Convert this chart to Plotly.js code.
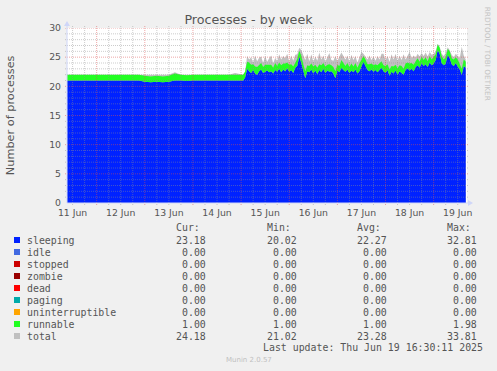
<!DOCTYPE html>
<html><head><meta charset="utf-8">
<script src="https://cdn.plot.ly/plotly-3.0.1.min.js"></script>
<style>html,body{margin:0;padding:0;background:#f0f0f0;}#chart{width:497px;height:371px;}</style>
</head><body><div id="chart"></div>
<script>
// ---- sampling grids (RRD steps) ----
const flatStartUTC = Date.UTC(2025, 5, 11, 9, 0);   // 11 Jun 09:00
const flatStepHours = 3;
const busyStartUTC = Date.UTC(2025, 5, 15, 0, 0);   // 15 Jun 00:00
const busyStepHours = 1;

// ---- data: 11 Jun 09:00 .. 14 Jun 21:00, every 3 h ----
const flatSleeping = [21,21,21,21,21,21,21,21,21,21,21,21,21,20.8,20.7,20.8,20.7,20.8,21.0,21.0,20.9,21,21,21,21,21,21,21,21];
const flatRunnable = [1,1,1,1,1,1,1,1,1,1,1,1,1,1,1,1,1,1,1.2,1,1,1,1,1,1,1,1,1,1];
const flatTotal    = [22,22,22,22,22,22,22,22,22,22,22,22,22,22,22,22,22,22,22.4,22,22,22,22,22,22,22,22,22,22.3];

// ---- data: 15 Jun 00:00 .. 19 Jun 16:00, hourly ----
const busySleeping = [
 21.0,21.0,21.5,23.0,22.6,22.3,22.8,22.2,22.0,22.6,
 22.9,22.3,22.5,22.7,22.4,22.6,22.2,22.8,22.5,23.0,
 22.4,22.9,22.6,23.1,22.5,22.8,22.3,23.2,23.5,25.1,
 24.0,22.7,21.4,22.6,22.4,22.9,22.2,22.7,22.1,22.8,
 22.4,23.0,22.3,22.7,22.5,22.6,22.2,21.4,22.7,22.4,
 23.2,22.8,22.5,22.9,22.3,22.7,22.4,22.9,22.2,22.6,
 23.4,24.2,23.5,22.8,22.6,22.9,22.5,22.8,22.4,22.9,
 23.2,22.6,22.3,22.8,21.8,22.5,22.2,22.7,22.0,22.6,
 22.3,22.0,22.8,23.1,22.7,23.0,22.6,23.3,23.6,23.2,
 24.0,23.5,23.8,23.3,24.1,23.6,23.9,24.5,26.2,25.6,
 24.0,23.6,23.9,25.4,24.8,23.8,23.5,24.0,23.4,22.9,
 22.0,23.5,23.2];
const busyRunnable = [
 1.0,1.0,1.0,1.2,1.5,1.4,1.0,1.2,1.3,1.0,
 1.1,1.0,1.2,1.0,1.3,1.1,1.0,1.2,1.0,1.1,
 1.2,1.0,1.3,1.0,1.2,1.0,1.1,1.0,1.2,1.0,
 1.3,1.1,1.2,1.0,1.1,1.0,1.2,1.0,1.1,1.0,
 1.2,1.0,1.1,1.0,1.3,1.0,1.1,1.2,1.0,1.1,
 1.3,1.2,1.0,1.1,1.0,1.2,1.0,1.1,1.0,1.3,
 1.2,1.0,1.1,1.0,1.2,1.0,1.1,1.0,1.2,1.0,
 1.1,1.0,1.2,1.0,1.1,1.0,1.2,1.0,1.1,1.0,
 1.2,1.0,1.1,1.0,1.2,1.0,1.1,1.0,1.2,1.0,
 1.1,1.0,1.2,1.0,1.1,1.0,1.2,1.0,1.0,1.0,
 1.2,1.0,1.1,1.0,1.2,1.0,1.1,1.0,1.2,1.0,
 1.0,1.1,1.0];
const busyTotal = [
 22.0,22.0,22.5,25.2,24.6,25.0,24.1,25.3,24.3,24.9,
 25.1,24.0,25.2,24.2,24.8,25.3,23.9,24.9,24.3,25.5,
 24.6,25.2,24.8,25.6,24.2,25.3,24.4,25.4,25.5,26.6,
 26.2,25.3,24.5,25.6,24.3,25.5,24.2,25.1,24.4,25.8,
 24.6,25.3,24.2,25.0,25.7,24.5,24.4,25.2,24.3,25.1,
 25.8,25.2,24.6,25.3,24.2,25.4,24.5,25.2,24.1,25.0,
 25.9,25.6,25.0,24.6,25.3,24.5,25.1,24.4,25.2,24.6,
 25.6,25.6,24.5,25.2,24.2,25.5,24.6,25.6,24.4,25.3,
 24.5,25.5,24.6,25.2,25.9,24.8,25.3,24.9,25.6,25.1,
 25.7,25.2,25.8,25.1,25.9,25.4,25.6,26.0,27.3,26.8,
 25.6,25.2,25.7,26.7,26.2,25.4,25.0,25.6,25.1,24.8,
 26.8,25.3,24.6];

// ---- axis labels ----
const dayLabels = ['11 Jun','12 Jun','13 Jun','14 Jun','15 Jun','16 Jun','17 Jun','18 Jun','19 Jun'];
const dayNoons  = ['2025-06-11 12:00','2025-06-12 12:00','2025-06-13 12:00','2025-06-14 12:00','2025-06-15 12:00','2025-06-16 12:00','2025-06-17 12:00','2025-06-18 12:00','2025-06-19 12:00'];
const yTicks = [0,5,10,15,20,25,30];

// ---- legend table ----
const legendNames  = ['sleeping','idle','stopped','zombie','dead','paging','uninterruptible','runnable','total'];
const legendColors = ['#0022ff','#4169e1','#cc0000','#990000','#ff0000','#00aaaa','#ffa500','#22ff22','#c0c0c0'];
const curVals = ['23.18','0.00','0.00','0.00','0.00','0.00','0.00','1.00','24.18'];
const minVals = ['20.02','0.00','0.00','0.00','0.00','0.00','0.00','1.00','21.02'];
const avgVals = ['22.27','0.00','0.00','0.00','0.00','0.00','0.00','1.00','23.28'];
const maxVals = ['32.81','0.00','0.00','0.00','0.00','0.00','0.00','1.98','33.81'];

function fmt(ms){ return new Date(ms).toISOString().slice(0,16).replace('T',' '); }
const times = [];
flatSleeping.forEach((_, i) => times.push(fmt(flatStartUTC + i*flatStepHours*3600e3)));
busySleeping.forEach((_, i) => times.push(fmt(busyStartUTC + i*busyStepHours*3600e3)));
const sleeping = flatSleeping.concat(busySleeping);
const runnable = flatRunnable.concat(busyRunnable);
const total = flatTotal.concat(busyTotal);

// ---- geometry ----
const L = 67, R = 467, T = 28, B = 203;
const pxX = p => (p - L) / (R - L);
const pxY = p => (B - p) / (B - T);
const xRange = ['2025-06-11 09:13', '2025-06-19 16:37'];

const traces = [
  {x: times, y: total, type:'scatter', mode:'lines', fill:'tozeroy', fillcolor:'#c0c0c0',
   line:{width:0, color:'#c0c0c0'}, name:'total', hoverinfo:'skip'},
  {x: times, y: sleeping, type:'scatter', mode:'lines', stackgroup:'s', fillcolor:'#0022ff',
   line:{width:0, color:'#0022ff'}, name:'sleeping', hoverinfo:'skip'},
  {x: times, y: runnable, type:'scatter', mode:'lines', stackgroup:'s', fillcolor:'#22ff22',
   line:{width:0, color:'#22ff22'}, name:'runnable', hoverinfo:'skip'}
];

const GRID = 'rgba(143,143,143,0.45)';
const MGRID = 'rgba(222,79,79,0.5)';
const shapes = [];
// horizontal grid (above data, like rrdtool)
for (let v = 1; v <= 30; v++) {
  shapes.push({type:'line', xref:'paper', yref:'y', x0:-2/400, x1:1+2/400, y0:v, y1:v, layer:'above',
    line:{color: v % 5 === 0 ? MGRID : GRID, width:1, dash:'1px,1px'}});
}
// vertical grid every 6 h
for (let ms = Date.UTC(2025,5,11,12); ms <= Date.UTC(2025,5,19,12); ms += 6*3600e3) {
  const major = new Date(ms).getUTCHours() === 0;
  shapes.push({type:'line', xref:'x', yref:'paper', x0:fmt(ms), x1:fmt(ms), y0:-2/175, y1:1+2/175, layer:'above',
    line:{color: major ? MGRID : GRID, width:1, dash:'1px,1px'}});
}
// axes with arrows
const AX = '#cfd6f8';
shapes.push({type:'line', xref:'paper', yref:'paper', x0:0, x1:0, y0:0, y1:1+4/175, layer:'above', line:{color:AX, width:1}});
shapes.push({type:'line', xref:'paper', yref:'paper', x0:0, x1:1+4/400, y0:0, y1:0, layer:'above', line:{color:AX, width:1}});
shapes.push({type:'path', xref:'paper', yref:'paper', xsizemode:'pixel', ysizemode:'pixel', xanchor:0, yanchor:1,
  path:'M -3 2 L 3 2 L 0 7 Z', fillcolor:AX, line:{width:0}, layer:'above'});
shapes.push({type:'path', xref:'paper', yref:'paper', xsizemode:'pixel', ysizemode:'pixel', xanchor:1, yanchor:0,
  path:'M 1 -3 L 1 3 L 6 0 Z', fillcolor:AX, line:{width:0}, layer:'above'});

const annotations = [];
const mono = {family:'DejaVu Sans Mono', size:9.9, color:'#555555'};
const ann = (x, y, text, xanchor, font, extra) => Object.assign({xref:'paper', yref:'paper', x:pxX(x), y:pxY(y), text,
  xanchor, yanchor:'middle', showarrow:false, font, borderpad:0, borderwidth:0}, extra || {});

annotations.push(ann(199.7, 227.3, 'Cur:', 'right', mono));
annotations.push(ann(290.7, 227.3, 'Min:', 'right', mono));
annotations.push(ann(380.7, 227.3, 'Avg:', 'right', mono));
annotations.push(ann(470.7, 227.3, 'Max:', 'right', mono));
legendNames.forEach((n, i) => {
  const yRow = 240 + 12*i;
  annotations.push(ann(26.7, yRow, n, 'left', mono));
  annotations.push(ann(205.7, yRow, curVals[i], 'right', mono));
  annotations.push(ann(296.7, yRow, minVals[i], 'right', mono));
  annotations.push(ann(386.7, yRow, avgVals[i], 'right', mono));
  annotations.push(ann(476.7, yRow, maxVals[i], 'right', mono));
  shapes.push({type:'rect', xref:'paper', yref:'paper', x0:pxX(14), x1:pxX(20), y0:pxY(yRow+3), y1:pxY(yRow-3),
    fillcolor:legendColors[i], line:{width:0}});
});
annotations.push(ann(482.5, 347.3, 'Last update: Thu Jun 19 16:30:11 2025', 'right', mono));
annotations.push(ann(248.5, 360, 'Munin 2.0.57', 'center', {family:'DejaVu Sans', size:7, color:'#c0c0c0'}));
annotations.push(ann(10.7, 115.5, 'Number of processes', 'center', {family:'DejaVu Sans', size:11.3, color:'#555555'}, {textangle:-90}));
annotations.push(ann(487.7, 53.5, 'RRDTOOL / TOBI OETIKER', 'center', {family:'DejaVu Sans', size:7.3, color:'#c4c4c4'}, {textangle:90}));

const layout = {
  width:497, height:371,
  margin:{l:L, r:497-R, t:T, b:371-B, pad:0},
  paper_bgcolor:'#f0f0f0', plot_bgcolor:'#ffffff',
  showlegend:false,
  title:{text:'Processes - by week', font:{family:'DejaVu Sans', size:12.7, color:'#555555'},
    xref:'container', x:0.5, xanchor:'center', yref:'container', y:1-19.3/371, yanchor:'middle'},
  xaxis:{type:'date', range:xRange, tickmode:'array', tickvals:dayNoons, ticktext:dayLabels,
    showgrid:false, zeroline:false, showline:false, ticks:'', ticklabelstandoff:3,
    tickfont:{family:'DejaVu Sans', size:9.3, color:'#555555'}, fixedrange:true},
  yaxis:{range:[0,30], tickmode:'array', tickvals:yTicks, ticktext:yTicks.map(String),
    showgrid:false, zeroline:false, showline:false, ticks:'', ticklabelstandoff:5,
    tickfont:{family:'DejaVu Sans', size:9.3, color:'#555555'}, fixedrange:true},
  shapes, annotations
};

Plotly.newPlot('chart', traces, layout, {staticPlot:true, displayModeBar:false});
</script>
</body></html>
